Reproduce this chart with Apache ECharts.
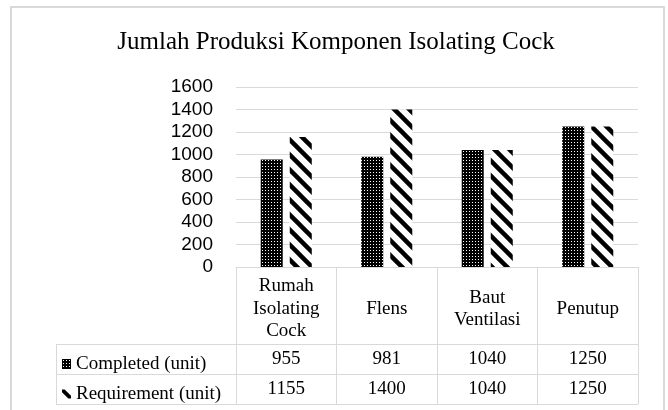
<!DOCTYPE html>
<html>
<head>
<meta charset="utf-8">
<script src="https://cdn.jsdelivr.net/npm/echarts@6/dist/echarts.min.js"></script>
<style>
html,body{margin:0;padding:0;background:#fff;}
#chart{width:668px;height:410px;}
</style>
</head>
<body>
<div id="chart"></div>
<script>
// ---- data ----
const categories = ['Rumah\nIsolating\nCock', 'Flens', 'Baut\nVentilasi', 'Penutup'];
const completed = [955, 981, 1040, 1250];
const requirement = [1155, 1400, 1040, 1250];
const seriesNames = ['Completed (unit)', 'Requirement (unit)'];
const titleText = 'Jumlah Produksi Komponen Isolating Cock';
const yTicks = { min: 0, max: 1600, interval: 200 };

// ---- patterns ----
function dotPattern() {
  const c = document.createElement('canvas');
  c.width = 3; c.height = 3;
  const g = c.getContext('2d');
  g.fillStyle = '#000'; g.fillRect(0, 0, 3, 3);
  g.fillStyle = '#fff'; g.fillRect(1, 1, 1, 1);
  return c;
}
function stripePattern() {
  const s = 15;
  const c = document.createElement('canvas');
  c.width = s; c.height = s;
  const g = c.getContext('2d');
  g.fillStyle = '#fff'; g.fillRect(0, 0, s, s);
  g.strokeStyle = '#000'; g.lineWidth = 4.5;
  for (const k of [-s, 0, s]) {
    g.beginPath();
    g.moveTo(k - 2, -2);
    g.lineTo(k + s + 2, s + 2);
    g.stroke();
  }
  return c;
}
const dotFill = { image: dotPattern(), repeat: 'repeat' };
const stripeFill = { image: stripePattern(), repeat: 'repeat' };

const GRID = { left: 236, top: 87, width: 402, height: 180 };
const lineColor = '#d9d9d9';
const serif = '"Liberation Serif", "Times New Roman", serif';
const sans = '"Liberation Sans", Arial, sans-serif';
const tableFont = 19;

const tableBottom = GRID.top + GRID.height + 137;
const rowLines = [344.5, 374.5, tableBottom + 0.5];

const chart = echarts.init(document.getElementById('chart'));
chart.setOption({
  animation: false,
  title: {
    text: titleText,
    left: 331, textAlign: 'center',
    top: 25,
    textStyle: { fontFamily: serif, fontSize: 25, fontWeight: 'normal', color: '#000' }
  },
  legend: {
    orient: 'vertical',
    left: 57, top: 349,
    itemWidth: 9, itemHeight: 10, itemGap: 10,
    selectedMode: false,
    textStyle: { fontFamily: serif, fontSize: tableFont, color: '#000', lineHeight: 20, padding: [0, 0, 0, 0] },
    data: [
      { name: seriesNames[0], icon: 'rect', itemStyle: { color: dotFill } },
      { name: seriesNames[1], icon: 'path://M0,0 L3,0 L10,7 L10,10 L7,10 L0,3 Z', itemStyle: { color: '#000' } }
    ]
  },
  grid: GRID,
  xAxis: [
    {
      type: 'category', data: categories,
      axisLine: { show: true, lineStyle: { color: lineColor, width: 1 } },
      axisTick: { show: true, interval: 0, length: 137, lineStyle: { color: lineColor } },
      axisLabel: { interval: 0, margin: 42, verticalAlign: 'middle', align: 'center',
        fontFamily: serif, fontSize: tableFont, lineHeight: 22.5, color: '#000' },
      splitLine: { show: false }
    },
    {
      type: 'category', data: completed.map(String), position: 'bottom',
      axisLine: { show: false }, axisTick: { show: false },
      axisLabel: { interval: 0, margin: 92, verticalAlign: 'middle', fontFamily: serif, fontSize: tableFont, color: '#000' }
    },
    {
      type: 'category', data: requirement.map(String), position: 'bottom',
      axisLine: { show: false }, axisTick: { show: false },
      axisLabel: { interval: 0, margin: 122, verticalAlign: 'middle', fontFamily: serif, fontSize: tableFont, color: '#000' }
    }
  ],
  yAxis: {
    type: 'value', min: yTicks.min, max: yTicks.max, interval: yTicks.interval,
    axisLine: { show: false }, axisTick: { show: false },
    axisLabel: { margin: 23, fontFamily: sans, fontSize: 19, color: '#000', formatter: v => String(v) },
    splitLine: { lineStyle: { color: lineColor, width: 1 } }
  },
  series: [
    { name: seriesNames[0], type: 'bar', xAxisIndex: 0, data: completed,
      barWidth: 22, barGap: '32%', itemStyle: { color: dotFill } },
    { name: seriesNames[1], type: 'bar', xAxisIndex: 0, data: requirement,
      barWidth: 22, barGap: '32%', itemStyle: { color: stripeFill } }
  ],
  graphic: [
    { type: 'rect', shape: { x: 11, y: 7, width: 653, height: 430 }, silent: true,
      style: { fill: 'none', stroke: lineColor, lineWidth: 2 } },
    ...rowLines.map(y => ({ type: 'line', silent: true,
      shape: { x1: 56, y1: y, x2: GRID.left + GRID.width, y2: y },
      style: { stroke: lineColor, lineWidth: 1 } })),
    { type: 'line', silent: true, shape: { x1: 56.5, y1: 344.5, x2: 56.5, y2: tableBottom + 0.5 },
      style: { stroke: lineColor, lineWidth: 1 } }
  ]
});
</script>
</body>
</html>
